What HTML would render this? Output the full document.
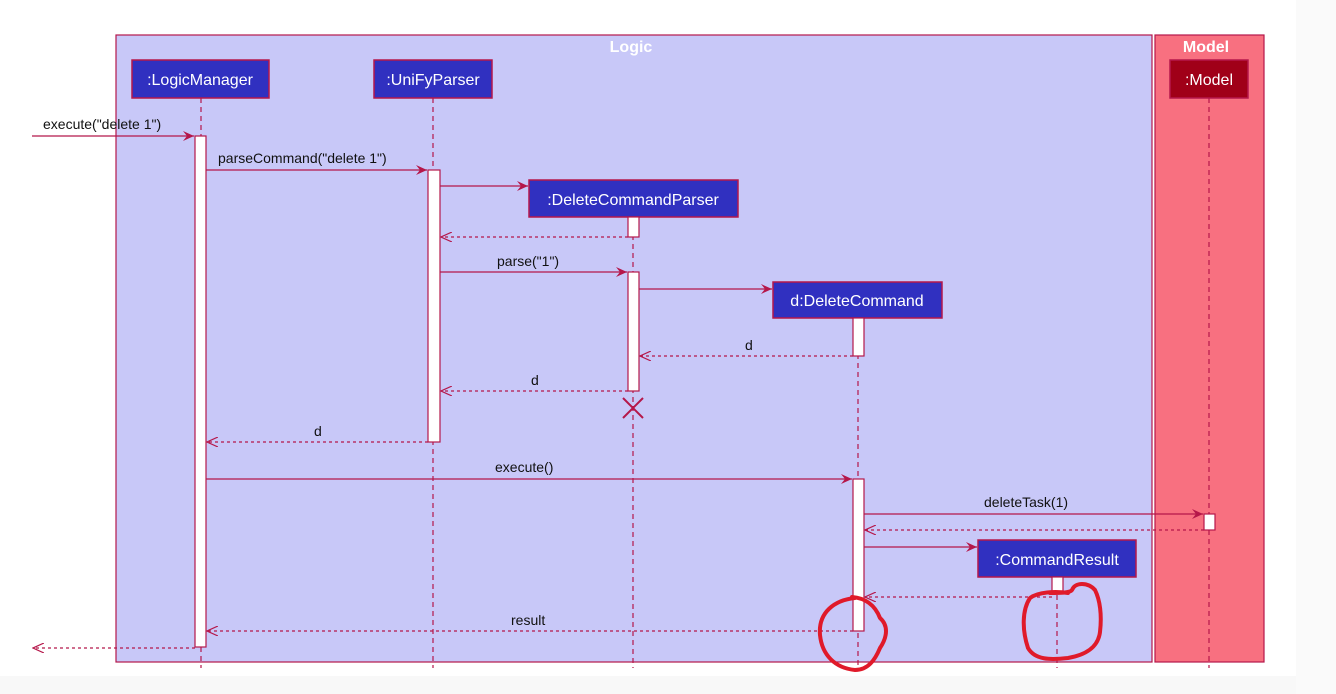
<!DOCTYPE html>
<html><head><meta charset="utf-8"><style>
html,body{margin:0;padding:0;background:#fff;}
svg{display:block;}
text{font-family:"Liberation Sans",sans-serif;}
</style></head><body>
<svg width="1336" height="694" viewBox="0 0 1336 694" xmlns="http://www.w3.org/2000/svg">
<defs>
<marker id="a" markerWidth="12" markerHeight="10" refX="11" refY="5" orient="auto" markerUnits="userSpaceOnUse">
<path d="M0,0 L11,5 L0,10 L4,5 Z" fill="#b5174a"/></marker>
<marker id="r" markerWidth="12" markerHeight="10" refX="11" refY="5" orient="auto" markerUnits="userSpaceOnUse">
<path d="M0,0 L11,5 L0,10" fill="none" stroke="#b5174a" stroke-width="1.2"/></marker>
</defs>
<rect x="0" y="676" width="1336" height="18" fill="#f8f8f8"/>
<rect x="1296" y="0" width="40" height="694" fill="#fafafa"/>
<!-- groups -->
<rect x="116" y="35" width="1036" height="627" fill="#c8c8f8" stroke="#b5174a" stroke-width="1.2"/>
<rect x="1155" y="35" width="109" height="627" fill="#f87080" stroke="#b5174a" stroke-width="1.2"/>
<text x="631" y="52" fill="#fff" font-size="16" font-weight="bold" text-anchor="middle">Logic</text>
<text x="1206" y="52" fill="#fff" font-size="16" font-weight="bold" text-anchor="middle">Model</text>
<!-- lifelines -->
<g stroke="#b5174a" stroke-width="1.2" stroke-dasharray="5,4">
<line x1="201" y1="98" x2="201" y2="668"/>
<line x1="433" y1="98" x2="433" y2="668"/>
<line x1="633" y1="217" x2="633" y2="668"/>
<line x1="858" y1="318" x2="858" y2="668"/>
<line x1="1057" y1="577" x2="1057" y2="668"/>
<line x1="1209" y1="98" x2="1209" y2="668"/>
</g>
<!-- participants -->
<g stroke="#b5174a" stroke-width="1.5" fill="#3030c0">
<rect x="132" y="60" width="137" height="38"/>
<rect x="374" y="60" width="118" height="38"/>
<rect x="529" y="180" width="209" height="37"/>
<rect x="773" y="282" width="169" height="36"/>
<rect x="978" y="540" width="158" height="37"/>
<rect x="1170" y="60" width="78" height="38" fill="#a00018"/>
</g>
<g fill="#fff" font-size="16" text-anchor="middle">
<text x="200" y="85">:LogicManager</text>
<text x="433" y="85">:UniFyParser</text>
<text x="633" y="205">:DeleteCommandParser</text>
<text x="857" y="306">d:DeleteCommand</text>
<text x="1057" y="565">:CommandResult</text>
<text x="1209" y="85">:Model</text>
</g>
<!-- activations -->
<g fill="#fff" stroke="#b5174a" stroke-width="1.2">
<rect x="195" y="136" width="11" height="511"/>
<rect x="428" y="170" width="12" height="272"/>
<rect x="628" y="217" width="11" height="20"/>
<rect x="628" y="272" width="11" height="119"/>
<rect x="853" y="318" width="11" height="38"/>
<rect x="853" y="479" width="11" height="152"/>
<rect x="1204" y="514" width="11" height="16"/>
<rect x="1052" y="577" width="11" height="16"/>
</g>
<!-- X -->
<g stroke="#b5174a" stroke-width="2"><line x1="623" y1="398" x2="643" y2="418"/><line x1="643" y1="398" x2="623" y2="418"/></g>
<!-- sync arrows -->
<g stroke="#b5174a" stroke-width="1.2" marker-end="url(#a)">
<line x1="32" y1="136" x2="194" y2="136"/>
<line x1="206" y1="170" x2="427" y2="170"/>
<line x1="440" y1="186" x2="528" y2="186"/>
<line x1="440" y1="272" x2="627" y2="272"/>
<line x1="639" y1="289" x2="772" y2="289"/>
<line x1="206" y1="479" x2="852" y2="479"/>
<line x1="864" y1="514" x2="1203" y2="514"/>
<line x1="864" y1="547" x2="977" y2="547"/>
</g>
<!-- returns -->
<g stroke="#b5174a" stroke-width="1.2" stroke-dasharray="3,3" marker-end="url(#r)">
<line x1="628" y1="237" x2="441" y2="237"/>
<line x1="853" y1="356" x2="640" y2="356"/>
<line x1="628" y1="391" x2="441" y2="391"/>
<line x1="428" y1="442" x2="207" y2="442"/>
<line x1="1204" y1="530" x2="865" y2="530"/>
<line x1="1052" y1="597" x2="865" y2="597"/>
<line x1="853" y1="631" x2="207" y2="631"/>
<line x1="195" y1="648" x2="33" y2="648"/>
</g>
<!-- labels -->
<g fill="#111" font-size="14">
<text x="43" y="129">execute("delete 1")</text>
<text x="218" y="163">parseCommand("delete 1")</text>
<text x="497" y="266">parse("1")</text>
<text x="745" y="350">d</text>
<text x="531" y="385">d</text>
<text x="314" y="436">d</text>
<text x="495" y="472">execute()</text>
<text x="984" y="507">deleteTask(1)</text>
<text x="511" y="625">result</text>
</g>
<!-- hand drawn circles -->
<g fill="none" stroke="#e01a2a" stroke-width="4" stroke-linecap="round" stroke-linejoin="round">
<path d="M855,598 C835,600 818,612 820,635 C822,655 835,668 855,670 C868,670 875,660 880,648 C888,636 888,625 880,618 C875,605 865,598 852,597"/>
<path d="M1068,593 C1055,591 1038,592 1030,598 C1022,610 1022,630 1028,648 C1035,660 1050,660 1068,658 C1085,655 1098,648 1100,632 C1102,615 1100,600 1095,590 C1088,582 1075,582 1072,590 C1070,593 1060,593 1050,593"/>
</g>
</svg>
</body></html>
